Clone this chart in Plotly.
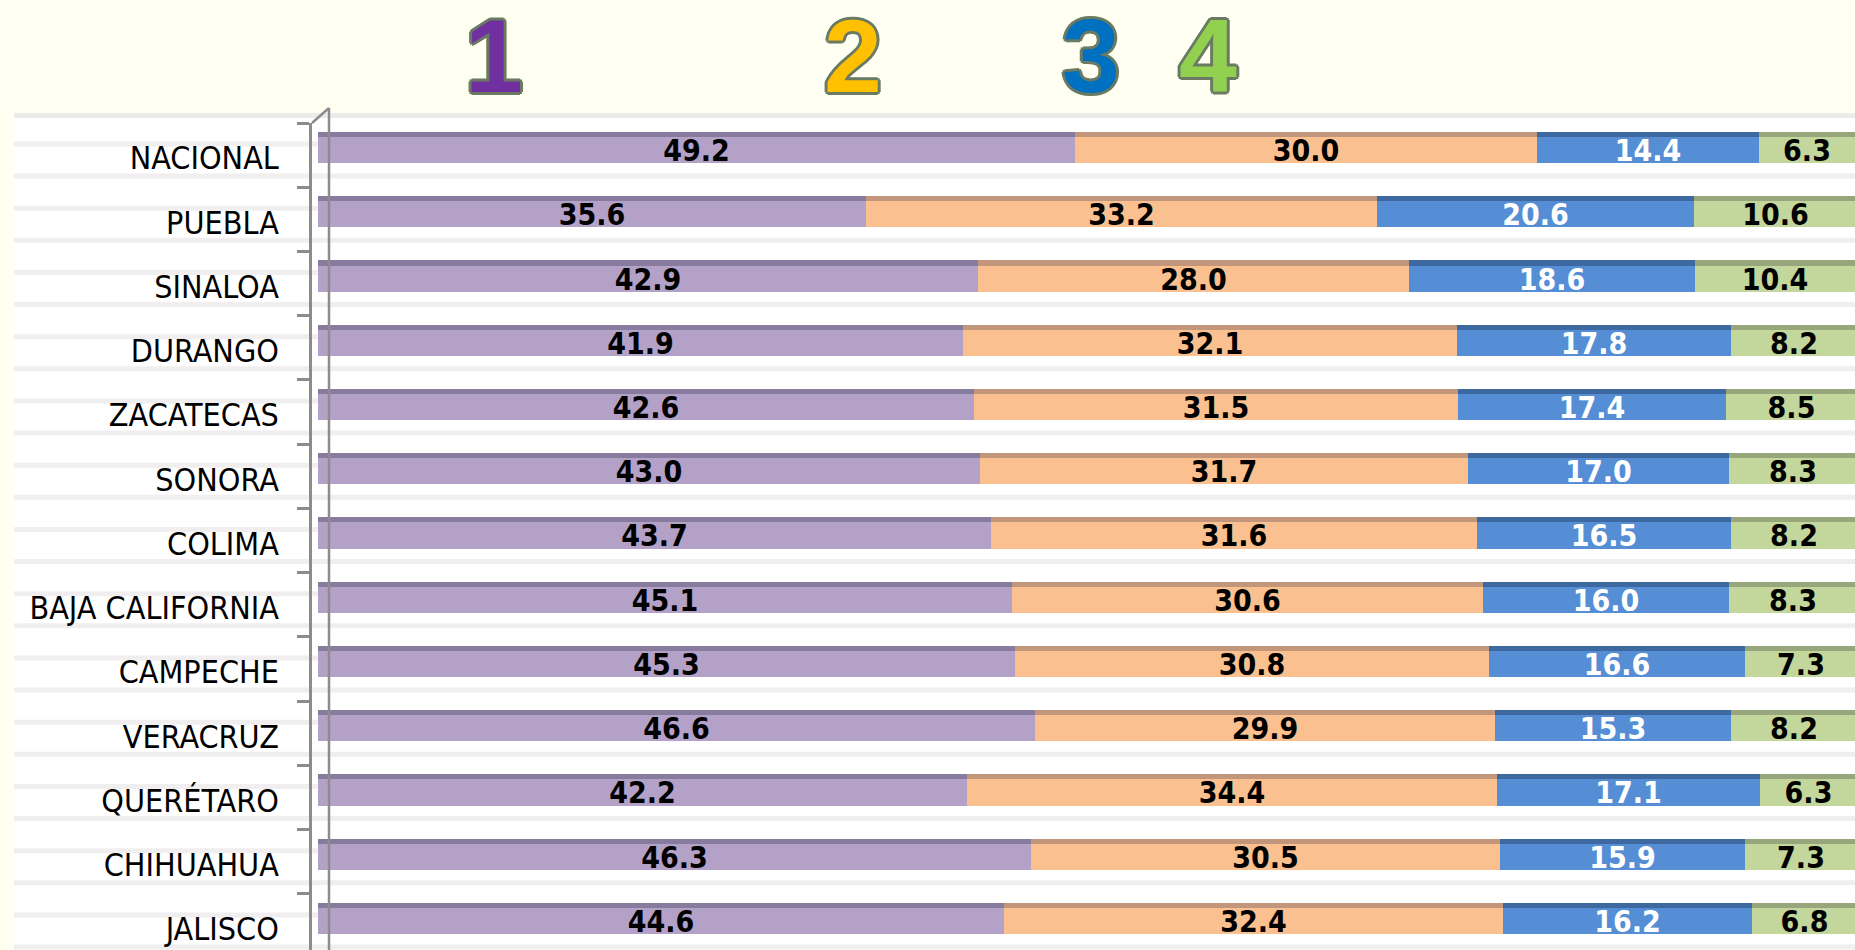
import plotly.graph_objects as go

# ---------------- data ----------------
states = ["NACIONAL", "PUEBLA", "SINALOA", "DURANGO", "ZACATECAS", "SONORA", "COLIMA",
          "BAJA CALIFORNIA", "CAMPECHE", "VERACRUZ", "QUERÉTARO", "CHIHUAHUA", "JALISCO"]
serie_1 = [49.2, 35.6, 42.9, 41.9, 42.6, 43.0, 43.7, 45.1, 45.3, 46.6, 42.2, 46.3, 44.6]
serie_2 = [30.0, 33.2, 28.0, 32.1, 31.5, 31.7, 31.6, 30.6, 30.8, 29.9, 34.4, 30.5, 32.4]
serie_3 = [14.4, 20.6, 18.6, 17.8, 17.4, 17.0, 16.5, 16.0, 16.6, 15.3, 17.1, 15.9, 16.2]
serie_4 = [6.3, 10.6, 10.4, 8.2, 8.5, 8.3, 8.2, 8.3, 7.3, 8.2, 6.3, 7.3, 6.8]
header_labels = ["1", "2", "3", "4"]

series = [serie_1, serie_2, serie_3, serie_4]
light_colors = ["#B3A1C8", "#FAC08F", "#558ED5", "#C3D69B"]
dark_colors = ["#877B9E", "#C2967A", "#3E69A0", "#98A67C"]
text_colors = ["#000000", "#000000", "#FFFFFF", "#000000"]
header_colors = ["#7030A0", "#FFC000", "#0070C0", "#92D050"]

NARROW = "DejaVu Sans Condensed, Liberation Sans Narrow, Liberation Sans"

W, H = 1855, 950
ML, MT = 312, 123
PW, PH = W - ML, H - MT
Y_RANGE = [12.372, -0.5]
X_RANGE = [-0.39, 99.87]


def px_x(px):
    return (px - ML) / PW


def px_y(py):
    return 1 - (py - MT) / PH


fig = go.Figure()

# cumulative bases
bases = []
acc = [0.0] * len(states)
for s in series:
    bases.append(list(acc))
    acc = [a + v for a, v in zip(acc, s)]

# darker "3D" top strip
for i, s in enumerate(series):
    fig.add_trace(go.Bar(
        y=states, x=s, base=bases[i], orientation="h",
        marker=dict(color=dark_colors[i], line=dict(width=0)),
        width=0.483, offset=-0.36, showlegend=False, hoverinfo="skip"))

# main bar faces with value labels
for i, s in enumerate(series):
    fig.add_trace(go.Bar(
        y=states, x=s, base=bases[i], orientation="h",
        marker=dict(color=light_colors[i], line=dict(width=0)),
        width=0.405, offset=-0.282,
        text=[f"{v:.1f}" for v in s], textposition="inside",
        insidetextanchor="middle", constraintext="none",
        insidetextfont=dict(family=NARROW, size=30, color=text_colors[i], weight="bold"),
        showlegend=False, name=header_labels[i]))

shapes = []
# chart-area background
shapes.append(dict(type="rect", xref="paper", yref="paper", layer="below",
                   x0=px_x(14), x1=px_x(W + 5), y0=px_y(H + 5), y1=px_y(113),
                   fillcolor="#FFFFFF", line=dict(width=0)))
shapes.append(dict(type="rect", xref="paper", yref="paper", layer="below",
                   x0=px_x(14), x1=px_x(W + 5), y0=px_y(118), y1=px_y(113),
                   fillcolor="#ECEAEA", line=dict(width=0)))
# texture stripes
k = 0
while True:
    yc = 144 + k * 32.12
    if yc > H:
        break
    shapes.append(dict(type="rect", xref="paper", yref="paper", layer="below",
                       x0=px_x(14), x1=px_x(W + 5), y0=px_y(yc + 2.5), y1=px_y(yc - 2.5),
                       fillcolor="#F0EEEE", line=dict(width=0)))
    k += 1
# back wall line of the 3D axis
shapes.append(dict(type="line", xref="paper", yref="paper", layer="above",
                   x0=px_x(329), x1=px_x(329), y0=px_y(H + 5), y1=px_y(108),
                   line=dict(color="#8C8C8C", width=2.5)))
shapes.append(dict(type="line", xref="paper", yref="paper", layer="above",
                   x0=px_x(312), x1=px_x(329), y0=px_y(123), y1=px_y(108),
                   line=dict(color="#8C8C8C", width=2.5)))

annotations = []
header_px = [494, 853, 1091, 1208]
outline = "#6B7A63"
shadow = ", ".join(f"{dx}px {dy}px 0 {outline}" for dx, dy in
                   [(3, 0), (-3, 0), (0, 3), (0, -3), (2, 2), (-2, 2), (2, -2), (-2, -2)])
for lab, xp, col in zip(header_labels, header_px, header_colors):
    annotations.append(dict(text=lab, xref="paper", yref="paper", x=px_x(xp), y=px_y(56),
                            xanchor="center", yanchor="middle", showarrow=False,
                            font=dict(family="Liberation Sans", size=104, color=col,
                                      weight="bold", shadow=shadow)))

fig.update_layout(
    width=W, height=H,
    margin=dict(l=ML, r=0, t=MT, b=0, pad=0, autoexpand=False),
    paper_bgcolor="#FFFFF2", plot_bgcolor="rgba(0,0,0,0)",
    barmode="overlay", bargap=0,
    xaxis=dict(range=X_RANGE, showgrid=False, zeroline=False, showticklabels=False,
               showline=False, fixedrange=True, automargin=False),
    yaxis=dict(type="category", range=Y_RANGE, showgrid=False, zeroline=False,
               showline=True, linecolor="#8C8C8C", linewidth=2.5, automargin=False,
               ticks="outside", ticklen=12, tickwidth=2.5, tickcolor="#8C8C8C",
               tickson="boundaries", ticklabelstandoff=24, ticklabelshift=-3,
               tickfont=dict(family=NARROW, size=32, color="#000000")),
    shapes=shapes, annotations=annotations,
    showlegend=False,
)

fig.write_html("out.html", config={"displayModeBar": False},
               post_script="document.body.style.margin='0';document.body.style.padding='0';"
                           "document.body.style.overflow='hidden';")
